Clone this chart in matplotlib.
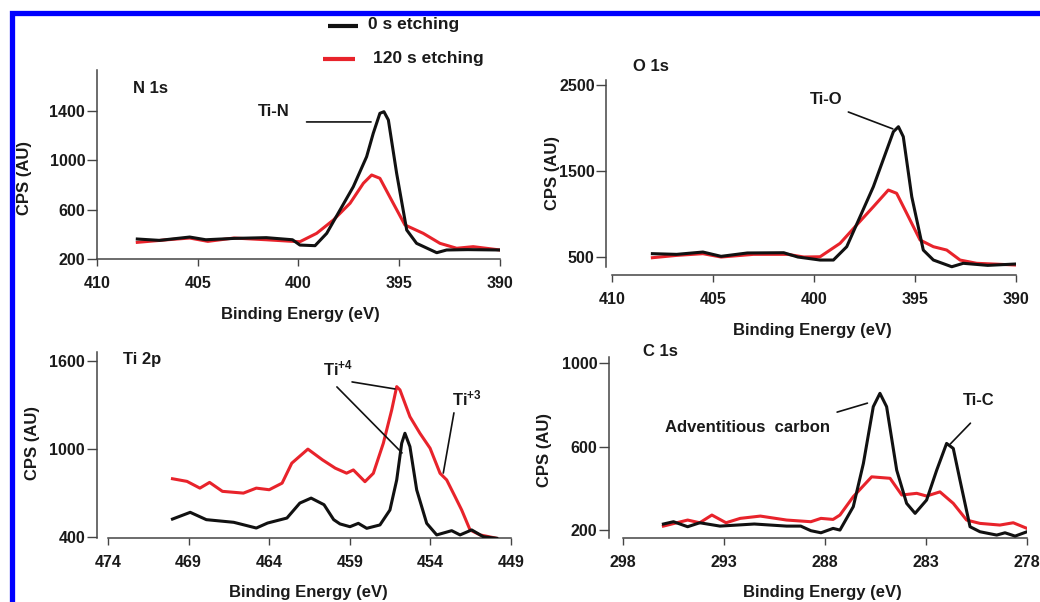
import matplotlib
matplotlib.use("Agg")
import matplotlib.pyplot as plt

plt.rcParams['font.family'] = ['Liberation Sans', 'DejaVu Sans']
plt.rcParams['font.weight'] = 'bold'
plt.rcParams['mathtext.fontset'] = 'custom'
plt.rcParams['mathtext.bf'] = 'Liberation Sans:bold'
plt.rcParams['mathtext.rm'] = 'Liberation Sans:bold'
plt.rcParams['mathtext.default'] = 'bf'

# ---------------- data ----------------
series_labels = ["0 s etching", "120 s etching"]

# N 1s
n1s_be_0 = [408.0, 406.9, 405.4, 404.6, 403.2, 401.6, 400.3, 399.93, 399.18, 398.6, 397.94, 397.28, 396.62, 396.29, 395.96, 395.76, 395.54, 395.13, 394.63, 394.14, 393.14, 392.65, 391.6, 390.0]
n1s_cps_0 = [362, 351, 378, 356, 367, 373, 356, 313, 308, 408, 597, 786, 1029, 1219, 1381, 1394, 1327, 895, 435, 327, 251, 273, 276, 273]
n1s_be_120 = [408.0, 406.5, 405.4, 404.5, 403.2, 401.6, 400.5, 399.93, 399.1, 398.27, 397.44, 396.78, 396.37, 395.96, 395.3, 394.72, 393.81, 392.98, 392.15, 391.33, 390.0]
n1s_cps_120 = [335, 356, 370, 343, 370, 356, 345, 340, 408, 516, 652, 814, 881, 854, 652, 476, 408, 327, 287, 300, 273]

# O 1s
o1s_be_0 = [408.0, 406.8, 405.5, 404.6, 403.3, 401.5, 400.8, 399.7, 399.04, 398.38, 397.72, 397.06, 396.4, 396.07, 395.82, 395.58, 395.16, 394.59, 394.09, 393.18, 392.61, 391.4, 390.0]
o1s_cps_0 = [539, 531, 558, 508, 547, 550, 500, 465, 465, 620, 969, 1318, 1744, 1957, 2015, 1899, 1201, 581, 465, 387, 427, 403, 419]
o1s_be_120 = [408.0, 406.8, 405.5, 404.6, 403.0, 401.3, 400.5, 399.7, 398.71, 397.89, 397.06, 396.32, 395.91, 395.41, 394.75, 394.09, 393.43, 392.77, 391.95, 390.0]
o1s_cps_120 = [492, 519, 539, 500, 531, 531, 500, 503, 659, 872, 1085, 1279, 1241, 1008, 698, 620, 581, 465, 427, 407]

# Ti 2p
ti2p_be_0 = [470.0, 468.9, 467.9, 466.2, 464.8, 464.1, 462.9, 462.1, 461.4, 460.6, 460.0, 459.61, 458.99, 458.47, 457.95, 457.13, 456.51, 456.09, 455.78, 455.58, 455.27, 454.85, 454.23, 453.61, 452.68, 452.16, 451.44, 450.72, 449.89]
ti2p_cps_0 = [522, 568, 518, 500, 461, 495, 529, 631, 665, 620, 518, 489, 470, 493, 459, 482, 584, 789, 1039, 1107, 1016, 721, 493, 414, 443, 414, 448, 402, 391]
ti2p_be_120 = [470.0, 469.1, 468.3, 467.7, 466.9, 465.6, 464.8, 464.0, 463.2, 462.6, 461.6, 460.7, 459.9, 459.2, 458.78, 458.06, 457.54, 456.92, 456.4, 456.09, 455.89, 455.27, 454.65, 454.02, 453.4, 452.99, 452.47, 452.06, 451.54, 450.92, 449.89]
ti2p_cps_120 = [797, 779, 733, 772, 711, 699, 733, 722, 767, 903, 999, 926, 869, 835, 857, 777, 834, 1039, 1266, 1425, 1403, 1220, 1107, 1005, 834, 789, 675, 584, 448, 414, 391]

# C 1s
c1s_be_0 = [296.0, 295.5, 294.8, 294.2, 293.2, 291.5, 289.9, 289.2, 288.7, 288.2, 287.6, 287.26, 286.6, 286.1, 285.61, 285.28, 284.95, 284.45, 283.96, 283.54, 282.97, 282.47, 281.98, 281.65, 281.32, 280.82, 280.33, 279.5, 279.09, 278.59, 278.0]
c1s_cps_0 = [229, 240, 216, 235, 219, 229, 219, 219, 197, 187, 208, 200, 312, 519, 791, 855, 791, 487, 328, 280, 344, 487, 615, 591, 440, 216, 192, 176, 187, 171, 192]
c1s_be_120 = [296.0, 294.8, 294.2, 293.6, 292.9, 292.2, 291.2, 289.9, 288.7, 288.2, 287.6, 287.26, 286.6, 285.69, 284.78, 284.2, 283.46, 282.97, 282.31, 281.65, 280.99, 280.33, 279.34, 278.68, 278.0]
c1s_cps_120 = [219, 248, 235, 272, 235, 256, 267, 248, 240, 256, 251, 272, 360, 455, 448, 368, 376, 363, 383, 328, 248, 232, 224, 235, 208]

n1s_xticks = [410, 405, 400, 395, 390]
n1s_yticks = [200, 600, 1000, 1400]
o1s_xticks = [410, 405, 400, 395, 390]
o1s_yticks = [500, 1500, 2500]
ti2p_xticks = [474, 469, 464, 459, 454, 449]
ti2p_yticks = [400, 1000, 1600]
c1s_xticks = [298, 293, 288, 283, 278]
c1s_yticks = [200, 600, 1000]

BLACK = '#111111'
RED = '#e8232b'
AXC = '#444444'
TXT = '#1a1a1a'

W, H = 1040, 602
fig = plt.figure(figsize=(W / 100, H / 100), dpi=100)


def px_rect(x0, x1, ytop, ybot):
    return [x0 / W, 1 - ybot / H, (x1 - x0) / W, (ybot - ytop) / H]


def make_ax(rect, xlim, ylim, xticks, yticks, yout=0):
    ax = fig.add_axes(rect)
    ax.set_xlim(*xlim)
    ax.set_ylim(*ylim)
    ax.set_facecolor('none')
    for s in ('top', 'right'):
        ax.spines[s].set_visible(False)
    for s in ('left', 'bottom'):
        ax.spines[s].set_color(AXC)
        ax.spines[s].set_linewidth(1.1)
    if yout:
        ax.spines['left'].set_position(('outward', yout))
    ax.set_xticks(xticks)
    ax.set_yticks(yticks)
    ax.tick_params(axis='x', direction='out', length=5, width=1.0, color=AXC,
                   pad=7, labelsize=11.5, labelcolor=TXT)
    ax.tick_params(axis='y', direction='out', length=7, width=1.0, color=AXC,
                   pad=1.5, labelsize=11.5, labelcolor=TXT)
    for lab in ax.get_xticklabels() + ax.get_yticklabels():
        lab.set_fontweight('bold')
    return ax


def plot_pair(ax, be0, c0, be1, c1):
    ax.plot(be0, c0, color=BLACK, lw=2.2, solid_joinstyle='round', zorder=3)
    ax.plot(be1, c1, color=RED, lw=2.2, solid_joinstyle='round', zorder=2)


def label_line(ax, xy_from, xy_to):
    ax.annotate('', xy=xy_to, xytext=xy_from,
                arrowprops=dict(arrowstyle='-', color=BLACK, lw=1.2,
                                shrinkA=0, shrinkB=0), annotation_clip=False)


def txt(ax, x, y, s, size=12):
    ax.text(x, y, s, ha='left', va='center', fontsize=size,
            fontweight='bold', color=TXT, clip_on=False)


# ---- N 1s ----
ax1 = make_ax(px_rect(97, 500, 70, 259), (410, 390), (200, 1732), n1s_xticks, n1s_yticks)
plot_pair(ax1, n1s_be_0, n1s_cps_0, n1s_be_120, n1s_cps_120)
txt(ax1, 408.2, 1586, 'N 1s')
txt(ax1, 402.0, 1395, 'Ti-N')
label_line(ax1, (399.6, 1311), (396.4, 1311))

# ---- O 1s ----
ax2 = make_ax(px_rect(612, 1016, 80, 275), (410, 390), (291, 2558), o1s_xticks, o1s_yticks, yout=4)
ax2.spines['left'].set_bounds(384, 2558)
plot_pair(ax2, o1s_be_0, o1s_cps_0, o1s_be_120, o1s_cps_120)
txt(ax2, 408.96, 2710, 'O 1s')
txt(ax2, 400.2, 2326, 'Ti-O')
label_line(ax2, (398.3, 2186), (396.1, 1990))

# ---- Ti 2p ----
ax3 = make_ax(px_rect(108, 511, 352, 538), (474, 449), (393, 1661), ti2p_xticks, ti2p_yticks, yout=8)
plot_pair(ax3, ti2p_be_0, ti2p_cps_0, ti2p_be_120, ti2p_cps_120)
txt(ax3, 473.07, 1607, 'Ti 2p')
txt(ax3, 460.66, 1546, r'Ti$^{+4}$')
label_line(ax3, (458.86, 1457), (456.2, 1409))
label_line(ax3, (459.8, 1423), (455.76, 973))
txt(ax3, 452.66, 1341, r'Ti$^{+3}$')
label_line(ax3, (452.54, 1246), (453.2, 836))

# ---- C 1s ----
ax4 = make_ax(px_rect(623, 1027, 357, 538), (298, 278), (162, 1029), c1s_xticks, c1s_yticks, yout=10)
plot_pair(ax4, c1s_be_0, c1s_cps_0, c1s_be_120, c1s_cps_120)
txt(ax4, 297.0, 1057, 'C 1s')
txt(ax4, 295.9, 693, 'Adventitious  carbon')
label_line(ax4, (287.4, 765), (285.9, 808))
txt(ax4, 281.17, 823, 'Ti-C')
label_line(ax4, (280.8, 712), (281.8, 612))

# ---- axis titles ----
for (x, y) in [(25, 178), (552, 173), (33, 443), (545, 450)]:
    fig.text(x / W, 1 - y / H, 'CPS (AU)', rotation=90, ha='center', va='center',
             fontsize=12, fontweight='bold', color=TXT)
for (x, y) in [(300, 314), (812, 330), (308, 593), (822, 593)]:
    fig.text(x / W, 1 - y / H, 'Binding Energy (eV)', ha='center', va='center',
             fontsize=12, fontweight='bold', color=TXT)

# ---- legend ----
lg = fig.add_axes([0, 0, 1, 1], facecolor='none')
lg.set_xlim(0, W)
lg.set_ylim(H, 0)
lg.axis('off')
lg.plot([328, 358], [26, 26], color=BLACK, lw=3.0, solid_capstyle='butt')
lg.plot([323, 355], [59, 59], color=RED, lw=3.0, solid_capstyle='butt')
lg.text(368, 25, series_labels[0], ha='left', va='center', fontsize=12.5, fontweight='bold', color=TXT)
lg.text(373, 59, series_labels[1], ha='left', va='center', fontsize=12.5, fontweight='bold', color=TXT)

# ---- blue frame ----
lg.plot([12, 12, W + 5], [H + 5, 12.5, 12.5], color='#0000ff', lw=3.8, solid_capstyle='butt',
        solid_joinstyle='miter', clip_on=False)

fig.savefig('out.png', dpi=100)
